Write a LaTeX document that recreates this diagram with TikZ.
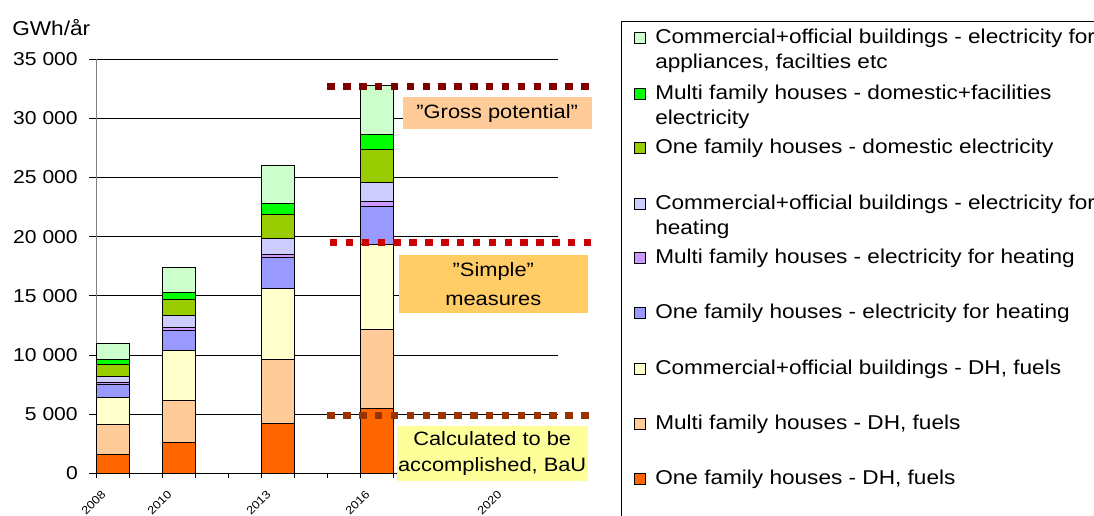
\documentclass[tikz,border=0pt]{standalone}
\usepackage{fontspec}
\setmainfont{Liberation Sans}[FakeStretch=1.13]
\definecolor{seg1}{HTML}{FF6600}
\definecolor{seg2}{HTML}{FFCC99}
\definecolor{seg3}{HTML}{FFFFCC}
\definecolor{seg4}{HTML}{9999FF}
\definecolor{seg5}{HTML}{CC99FF}
\definecolor{seg6}{HTML}{CCCCFF}
\definecolor{seg7}{HTML}{99CC00}
\definecolor{seg8}{HTML}{00FF00}
\definecolor{seg9}{HTML}{CCFFCC}
\definecolor{grossred}{HTML}{800000}
\definecolor{simplered}{HTML}{CC0000}
\definecolor{baubrown}{HTML}{993300}
\definecolor{grossfill}{HTML}{FFCC99}
\definecolor{simplefill}{HTML}{FFCC66}
\definecolor{baufill}{HTML}{FFFF99}

\begin{document}
\begin{tikzpicture}
[x=0.75pt,y=-0.75pt,
 every node/.style={inner sep=0pt,font=\fontsize{14}{17}\selectfont},
 gridline/.style={line width=0.75pt},
 barseg/.style={draw=black,line width=0.75pt},
 levelline/.style={line width=5.6pt,dash pattern=on 5.6pt off 6.3pt},
 callout/.style={align=center,font=\fontsize{14.5}{19}\selectfont},
 key/.style={draw=black,line width=0.6pt,minimum size=8.25pt},
 keytext/.style={anchor=base west,align=left,font=\fontsize{15}{18.75}\selectfont}]
\useasboundingbox (0,0) rectangle (1094,516);

\node[anchor=west,font=\fontsize{15}{18}\selectfont] (unit) at (12,28) {GWh/år};

\begin{scope}[shift={(72pt,-355.125pt)},x=24.75pt,y=8.882pt]
\foreach \v/\txt in {0/0,5/5 000,10/10 000,15/15 000,20/20 000,25/25 000,30/30 000,35/35 000}
{\draw[gridline] (-0.21,\v) -- (14,\v);
 \node[anchor=east] (y\v) at ([xshift=-13.5pt]0,\v) {\txt};}
\draw[gray,line width=0.75pt] (0,0) -- (0,35);
\foreach \s in {0,...,14} \draw[gridline] (\s,0) -- (\s,-0.4);
\foreach \s/\list in {0/{1.6,4.1,6.4,7.5,7.7,8.15,9.2,9.6,10.95},
  2/{2.6,6.2,10.4,12.1,12.3,13.3,14.7,15.3,17.4},
  5/{4.2,9.6,15.6,18.2,18.5,19.85,21.85,22.8,26.0},
  8/{5.45,12.15,19.3,22.55,23.0,24.6,27.4,28.6,32.8}}
 \foreach \hi [count=\i,remember=\hi as \lo (initially 0)] in \list
  \draw[barseg,fill=seg\i] (\s,\lo) rectangle (\s+1,\hi);
\foreach \s/\yr in {0/2008,2/2010,5/2013,8/2016,12/2020}
 \node[rotate=45,anchor=east,font=\fontsize{8.5}{10}\selectfont] (x\yr) at ([xshift=5.8pt,yshift=-14.4pt]\s,0) {\yr};
\end{scope}

\coordinate (gl) at (327.3,86.7);
\coordinate (gr) at (589,86.7);
\coordinate (sl) at (330,242.5);
\coordinate (sr) at (591.5,242.5);
\coordinate (bl) at (327.3,415.7);
\coordinate (br) at (589,415.7);
\draw[levelline,grossred] (gl) -- (gr);
\draw[levelline,simplered] (sl) -- (sr);
\draw[levelline,baubrown] (bl) -- (br);

\node[callout,fill=grossfill,minimum width=141.75pt,minimum height=23.8pt] (gross) at (497.2,113.2) {”Gross potential”};
\node[callout,fill=simplefill,minimum width=141.5pt,minimum height=43.7pt,font=\fontsize{14.5}{22}\selectfont] (simple) at (493.35,284.2) {”Simple”\\measures};
\node[callout,fill=baufill,minimum width=143.25pt,minimum height=41.5pt] (bau) at (492.2,453.35) {Calculated to be\\accomplished, BaU};

\draw[line width=0.75pt] (621.3,516) |- (1094,21.3);
\foreach \i/\cy/\n/\txt in {9/37.8/2/{Commercial+official buildings - electricity for\\appliances, facilties etc},
  8/93.5/2/{Multi family houses - domestic+facilities\\electricity},
  7/148/1/{One family houses - domestic electricity},
  6/203.5/2/{Commercial+official buildings - electricity for\\heating},
  5/258/1/{Multi family houses - electricity for heating},
  4/313/1/{One family houses - electricity for heating},
  3/368.5/1/{Commercial+official buildings - DH, fuels},
  2/423.5/1/{Multi family houses - DH, fuels},
  1/479/1/{One family houses - DH, fuels}}
{\node[key,fill=seg\i] (k\i) at (640.2,\cy) {};
 \node[keytext] (t\i) at (655,\cy+5.8+25*\n-25) {\txt};}
\end{tikzpicture}
\end{document}
